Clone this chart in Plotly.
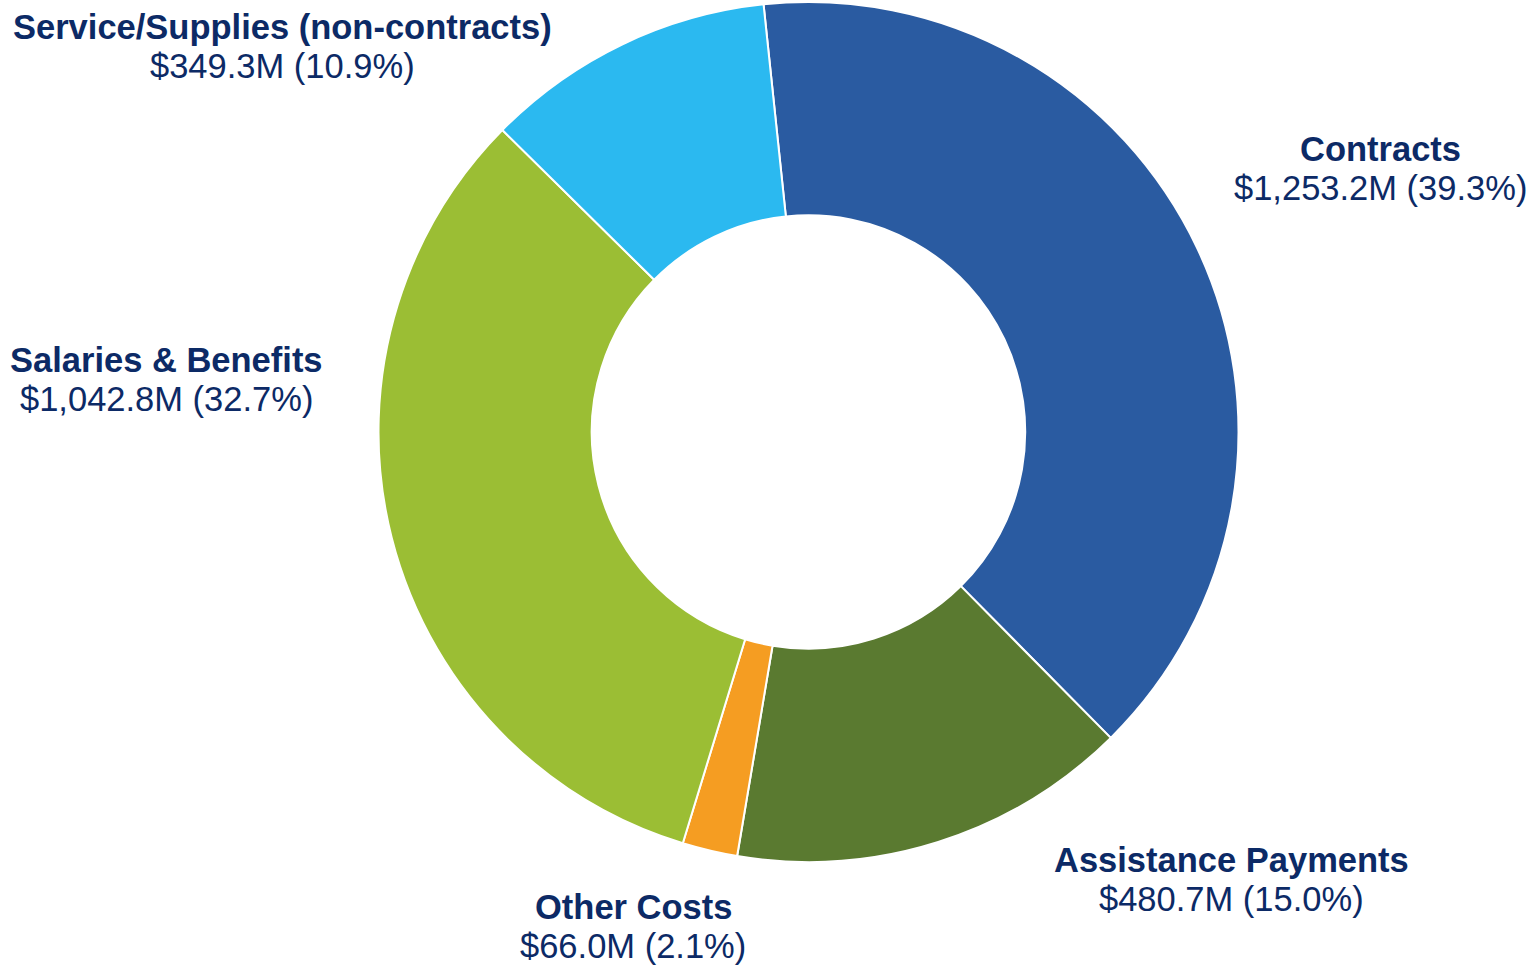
import plotly.graph_objects as go

# Spending by category (millions of dollars) and share of total (%)
categories = ["Contracts", "Assistance Payments", "Other Costs",
              "Salaries & Benefits", "Service/Supplies (non-contracts)"]
amounts = [1253.2, 480.7, 66.0, 1042.8, 349.3]
shares = [39.3, 15.0, 2.1, 32.7, 10.9]
colors = ["#2A5BA1", "#5A7A30", "#F59D22", "#9BBE34", "#2BB9F0"]

# Label anchor points in pixels: (center x, name baseline y)
label_pos = [(1380, 159), (1231, 870), (633, 917), (166, 370), (282, 37)]

W, H = 1529, 969
TEXT = "#0C2A66"
FONT = "Liberation Sans, Arial, sans-serif"
FS = 34.5

fig = go.Figure(go.Pie(
    labels=categories,
    values=amounts,
    hole=0.504,
    sort=False,
    direction="clockwise",
    rotation=-6,
    marker=dict(colors=colors, line=dict(color="white", width=2)),
    textinfo="none",
    hoverinfo="label+value+percent",
    showlegend=False,
    domain=dict(x=[377.5 / W, 1239.5 / W], y=[(H - 862) / H, (H - 2) / H]),
))

annotations = []
for name, val, pct, (cx, base) in zip(categories, amounts, shares, label_pos):
    for text, b, bold in ((name, base, True), (f"${val:,.1f}M ({pct:.1f}%)", base + 39, False)):
        # vertical middle of a line sits about 0.3em above its baseline
        ymid = b - 0.30 * FS
        annotations.append(dict(
            x=cx / W, y=1 - ymid / H, xref="paper", yref="paper",
            xanchor="center", yanchor="middle", showarrow=False,
            text=f"<b>{text}</b>" if bold else text,
            font=dict(family=FONT, size=FS, color=TEXT),
        ))

fig.update_layout(
    width=W, height=H,
    margin=dict(l=0, r=0, t=0, b=0),
    paper_bgcolor="white", plot_bgcolor="white",
    annotations=annotations,
)

fig.write_html("out.html")
